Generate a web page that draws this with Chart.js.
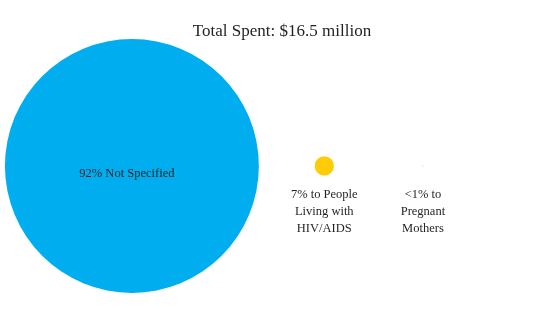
<!DOCTYPE html>
<html>
<head>
<meta charset="utf-8">
<script src="https://cdn.jsdelivr.net/npm/chart.js@4.4.1/dist/chart.umd.min.js"></script>
<style>
  body { margin: 0; background: #fff; }
  #wrap { width: 545px; height: 328px; }
</style>
</head>
<body>
<div id="wrap"><canvas id="spend-chart" width="545" height="328"></canvas></div>
<script>
const title = 'Total Spent: $16.5 million';
const categories = ['Not Specified', 'to People Living with HIV/AIDS', 'to Pregnant Mothers'];
const shares = [92, 7, 0.5];
const shareLabels = ['92%', '7%', '<1%'];
const colours = ['#00aeef', '#ffcc05', '#f9d0d0'];

// layout only: horizontal slot of each bubble, in % of the width
const slotX = [24.2, 59.5, 77.6];
const radiusPerPoint = 1.38; // bubble radius grows with the share

function wrap(ctx, text, maxWidth) {
    const words = text.split(' ');
    const lines = [];
    let line = '';
    words.forEach(w => {
        const test = line ? line + ' ' + w : w;
        if (line && ctx.measureText(test).width > maxWidth) {
            lines.push(line);
            line = w;
        } else {
            line = test;
        }
    });
    lines.push(line);
    return lines;
}

// draws the title and the text next to the bubbles
const bubbleLabels = {
    id: 'bubbleLabels',
    afterDatasetsDraw(chart) {
        const ctx = chart.ctx;
        const pts = chart.getDatasetMeta(0).data;
        ctx.save();
        ctx.fillStyle = '#231f20';
        ctx.textAlign = 'center';
        ctx.textBaseline = 'middle';
        ctx.font = '17px "Liberation Serif"';
        ctx.fillText(title, 282, 32);
        ctx.font = '12.5px "Liberation Serif"';
        pts.forEach((pt, i) => {
            const text = shareLabels[i] + ' ' + categories[i];
            if (i === 0) {
                ctx.fillText(text, pt.x - 5, pt.y + 8);
                return;
            }
            wrap(ctx, text, 72).forEach((line, j) => {
                ctx.fillText(line, pt.x, pt.y + 29 + j * 17);
            });
        });
        ctx.restore();
    }
};

const ctx = document.getElementById('spend-chart').getContext('2d');
new Chart(ctx, {
    type: 'bubble',
    data: {
        labels: categories,
        datasets: [{
            data: shares.map((s, i) => ({ x: slotX[i], y: 0, r: s * radiusPerPoint })),
            backgroundColor: colours,
            borderWidth: 0,
            hoverRadius: 0,
            clip: false
        }]
    },
    options: {
        responsive: false,
        animation: false,
        layout: { padding: 0, autoPadding: false },
        scales: {
            x: { type: 'linear', display: false, min: 0, max: 100 },
            y: { type: 'linear', display: false, min: -1, max: 1.024 }
        },
        plugins: {
            legend: { display: false },
            tooltip: { enabled: false }
        }
    },
    plugins: [bubbleLabels]
});
</script>
</body>
</html>
